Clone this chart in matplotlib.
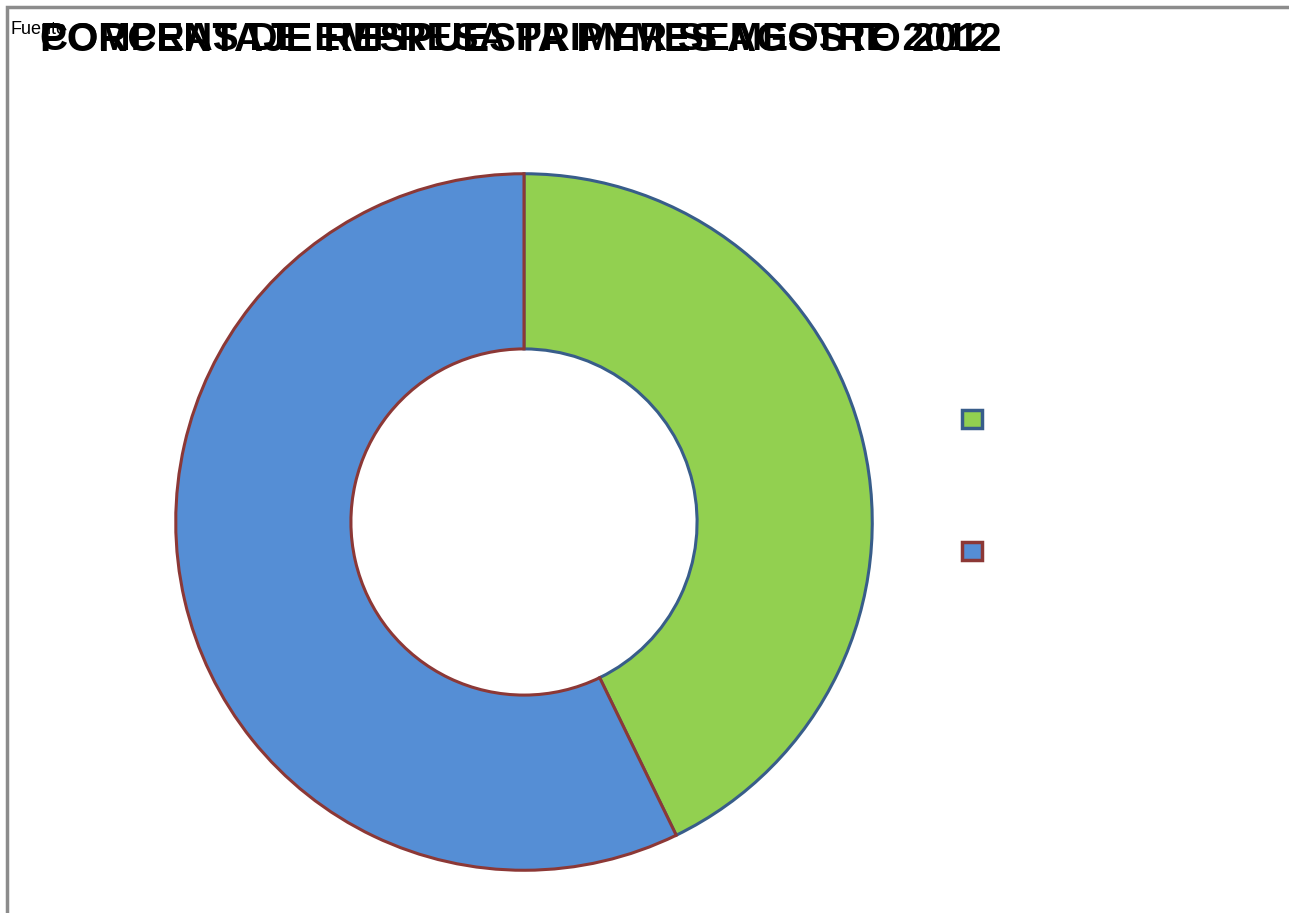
"""Donut chart, share of answers."""
import matplotlib.pyplot as plt
from matplotlib.patches import Patch, Rectangle

# Data
categories = ["SI", "NO"]
shares = [42.8, 57.2]
colors = ["#92D050", "#558ED5"]
edges = ["#385D8A", "#8C3836"]
titles = [
    "PORCENTAJE RESPUESTA PYMES AGOSTO 2012",
    "COMPRAS DE EMPRESA PRIMER SEMESTRE 2012",
]
note = "Fuente"

if __name__ == "__main__":
    plt.rcParams["font.family"] = ["Liberation Sans", "DejaVu Sans"]
    W, H = 1289, 913
    fig = plt.figure(figsize=(W / 100, H / 100), dpi=100)

    # grey frame (only top and left show in the original)
    fig.patches.append(
        Rectangle((7 / W, -0.1), 1.2, 1 - 7 / H + 0.1, transform=fig.transFigure,
                  fill=False, edgecolor="#8c8c8c", linewidth=2.5)
    )

    # donut
    cx, cy, r = 524, 522, 350
    ax = fig.add_axes([(cx - r) / W, (H - cy - r) / H, 2 * r / W, 2 * r / H])
    wedges, _ = ax.pie(
        shares, colors=colors, startangle=90, counterclock=False,
        radius=1, wedgeprops=dict(width=0.503, linewidth=2.2),
    )
    for w, ec in zip(wedges, edges):
        w.set_edgecolor(ec)
    ax.set_xlim(-1.005, 1.005)
    ax.set_ylim(-1.005, 1.005)
    ax.set_aspect("equal")
    ax.axis("off")

    # overlapping titles, as in the source
    fig.text(10 / W, 1 - 30 / H, note, ha="left", va="center", fontsize=13)
    for t, fs in zip(titles, [29, 28]):
        fig.text(40 / W, 1 - 40 / H, t, ha="left", va="center",
                 fontsize=fs, fontweight="bold")

    # legend with no visible labels
    handles = [Patch(facecolor=c, edgecolor=e, linewidth=2.5) for c, e in zip(colors, edges)]
    fig.legend(handles, ["", ""], loc="upper left",
               bbox_to_anchor=(952 / W, 1 - 400 / H), frameon=False,
               fontsize=14, handlelength=1.05, handleheight=1.05,
               labelspacing=5.8, borderpad=0, handletextpad=0.5)

    fig.savefig("out.png", dpi=100)
